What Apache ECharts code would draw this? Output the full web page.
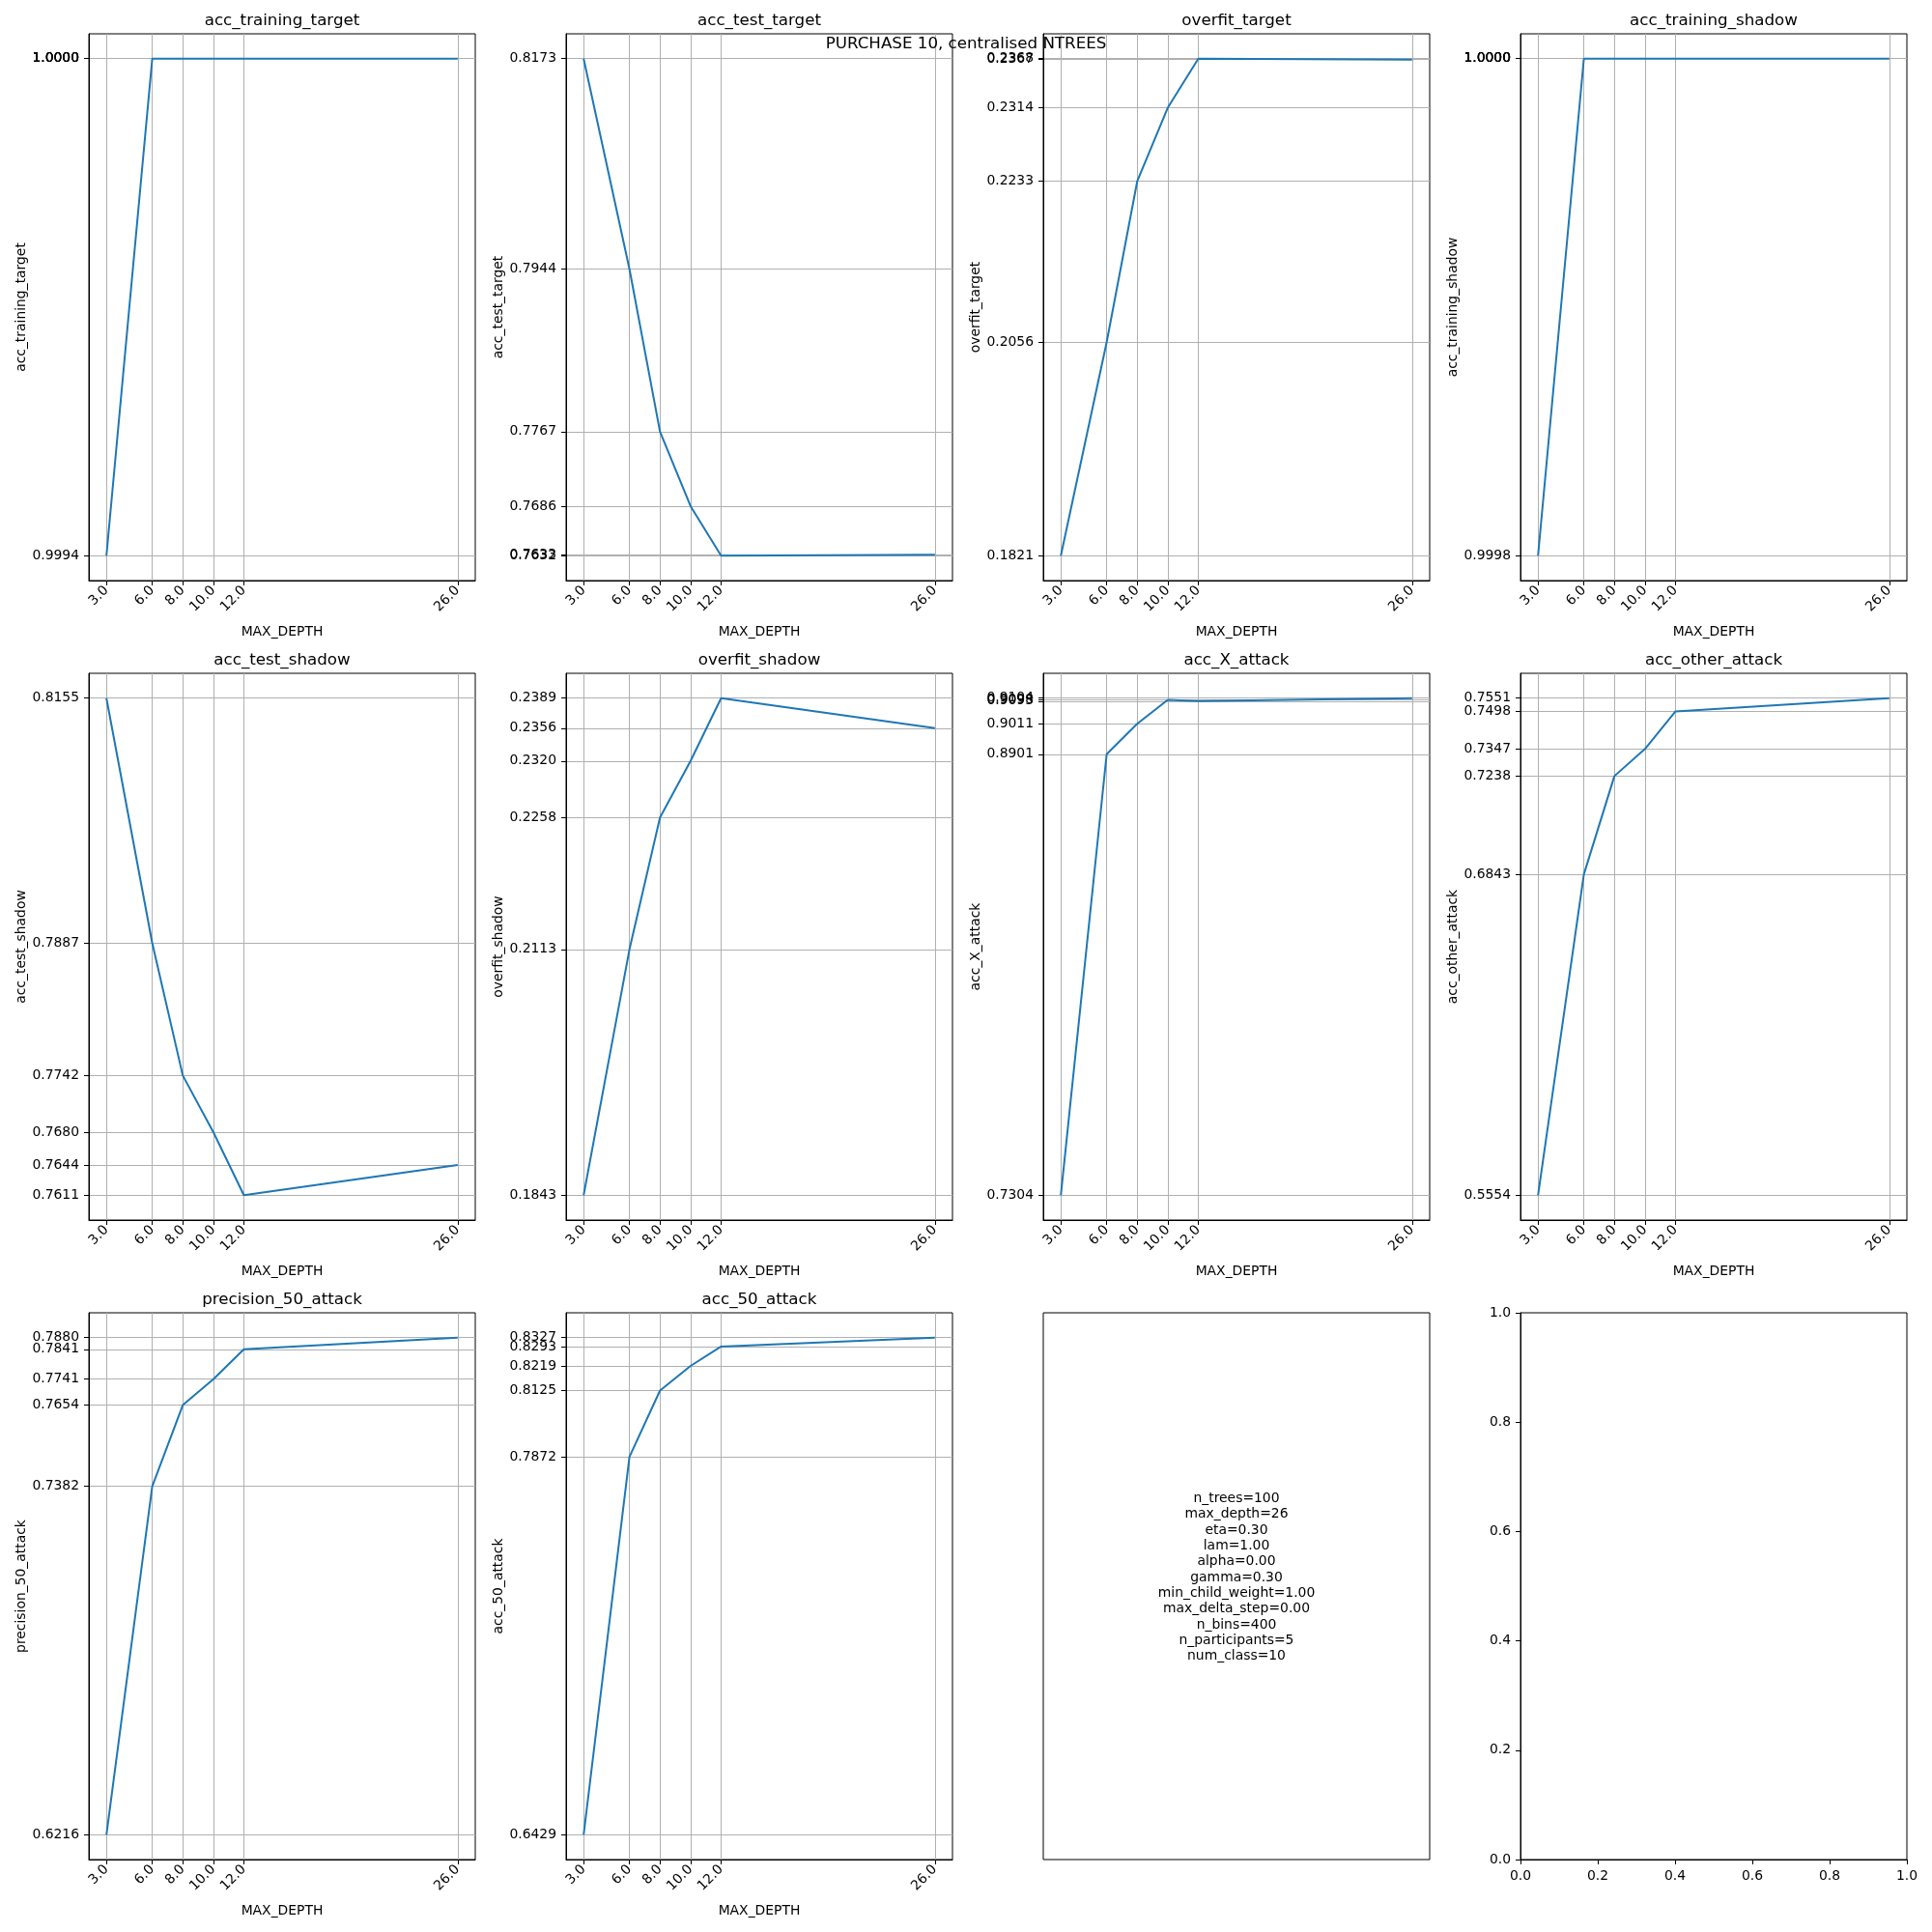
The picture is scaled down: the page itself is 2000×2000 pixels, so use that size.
<!DOCTYPE html>
<html>
<head>
<meta charset="utf-8">
<script src="https://cdn.jsdelivr.net/npm/echarts@6/dist/echarts.min.js"></script>
<style>html,body{margin:0;padding:0;background:#fff}#c{width:2000px;height:2000px}</style>
</head>
<body>
<div id="c"></div>
<script>
// ---------------- DATA ----------------
const X_VALUES = [3, 6, 8, 10, 12, 26];
const X_LABEL = 'MAX_DEPTH';
const SUPTITLE = 'PURCHASE 10, centralised NTREES';

const accTrainingTarget = [0.9994, 1.0000, 1.0000, 1.0000, 1.0000, 1.0000];
const accTestTarget     = [0.8173, 0.7944, 0.7767, 0.7686, 0.7632, 0.7633];
const overfitTarget     = [0.1821, 0.2056, 0.2233, 0.2314, 0.2368, 0.2367];
const accTrainingShadow = [0.9998, 1.0000, 1.0000, 1.0000, 1.0000, 1.0000];
const accTestShadow     = [0.8155, 0.7887, 0.7742, 0.7680, 0.7611, 0.7644];
const overfitShadow     = [0.1843, 0.2113, 0.2258, 0.2320, 0.2389, 0.2356];
const accXAttack        = [0.7304, 0.8901, 0.9011, 0.9098, 0.9093, 0.9104];
const accOtherAttack    = [0.5554, 0.6843, 0.7238, 0.7347, 0.7498, 0.7551];
const precision50Attack = [0.6216, 0.7382, 0.7654, 0.7741, 0.7841, 0.7880];
const acc50Attack       = [0.6429, 0.7872, 0.8125, 0.8219, 0.8293, 0.8327];

const PANEL_NAMES = ['acc_training_target','acc_test_target','overfit_target','acc_training_shadow',
  'acc_test_shadow','overfit_shadow','acc_X_attack','acc_other_attack',
  'precision_50_attack','acc_50_attack'];
const PANEL_VALUES = [accTrainingTarget, accTestTarget, overfitTarget, accTrainingShadow,
  accTestShadow, overfitShadow, accXAttack, accOtherAttack, precision50Attack, acc50Attack];

const PARAM_LINES = ['n_trees=100','max_depth=26','eta=0.30','lam=1.00','alpha=0.00','gamma=0.30',
  'min_child_weight=1.00','max_delta_step=0.00','n_bins=400','n_participants=5','num_class=10'];
const EMPTY_TICKS = [0.0, 0.2, 0.4, 0.6, 0.8, 1.0];

// ---------------- LAYOUT ----------------
const COL_LEFT = [92, 586, 1080, 1574];
const ROW_TOP = [35, 697, 1359];
const W = 400, H = 566;
const FONT = 'DejaVu Sans';
const FS = 13.9, TFS = 16.7;
const BLUE = '#1f77b4', GRID = '#b0b0b0';

// Order tick values so that ECharts' first/last label overlap check never hides a label
// (first two and last two labels are kept far apart).
function labelOrder(vals) {
  const d = vals.slice().sort((a, b) => b - a);
  const n = d.length;
  if (n < 6) return d;
  return [d[0], d[n - 1], d[1], d[n - 2], ...d.slice(4, n - 2).reverse(), d[2], d[3]];
}

const grids = [], xAxes = [], yAxes = [], series = [], graphics = [];

function baseAxisStyle() {
  return {
    axisLine: {show: true, onZero: false, lineStyle: {color: '#000', width: 1}},
    axisTick: {show: true, length: 5, lineStyle: {color: '#000', width: 1}},
  };
}

for (let i = 0; i < 12; i++) {
  const r = Math.floor(i / 4), c = i % 4;
  const left = COL_LEFT[c], top = ROW_TOP[r];
  grids.push({left: left, top: top, width: W, height: H, show: true,
    borderColor: '#000', borderWidth: 1, backgroundColor: 'transparent', containLabel: false});

  if (i < PANEL_VALUES.length) {
    const vals = PANEL_VALUES[i];
    const ticks = labelOrder(vals);
    const vmin = Math.min(...vals), vmax = Math.max(...vals);
    const pad = (vmax - vmin) * 0.05;
    const xr = X_VALUES[X_VALUES.length - 1] - X_VALUES[0];
    const b = baseAxisStyle();
    xAxes.push({
      gridIndex: i, type: 'value',
      min: X_VALUES[0] - xr * 0.05, max: X_VALUES[X_VALUES.length - 1] + xr * 0.05,
      name: X_LABEL, nameLocation: 'middle', nameGap: 46,
      nameTextStyle: {fontFamily: FONT, fontSize: FS, color: '#000'},
      axisLine: b.axisLine,
      axisTick: Object.assign({customValues: X_VALUES}, b.axisTick),
      axisLabel: {customValues: X_VALUES, formatter: v => v.toFixed(1), rotate: 45,
        showMinLabel: true, showMaxLabel: true, hideOverlap: false,
        fontFamily: FONT, fontSize: FS, color: '#000', margin: 8},
      splitLine: {show: true, lineStyle: {color: GRID, width: 1}}
    });
    yAxes.push({
      gridIndex: i, type: 'value', min: vmin - pad, max: vmax + pad,
      name: PANEL_NAMES[i], nameLocation: 'middle', nameGap: 62,
      nameTextStyle: {fontFamily: FONT, fontSize: FS, color: '#000'},
      axisLine: b.axisLine,
      axisTick: Object.assign({customValues: ticks}, b.axisTick),
      axisLabel: {customValues: ticks, formatter: v => v.toFixed(4),
        showMinLabel: true, showMaxLabel: true, hideOverlap: false,
        fontFamily: FONT, fontSize: FS, color: '#000', margin: 10},
      splitLine: {show: true, lineStyle: {color: GRID, width: 1}}
    });
    series.push({
      type: 'line', xAxisIndex: i, yAxisIndex: i,
      data: X_VALUES.map((x, j) => [x, vals[j]]),
      showSymbol: false, symbol: 'none',
      lineStyle: {color: BLUE, width: 2}, itemStyle: {color: BLUE},
      animation: false, z: 5
    });
    graphics.push({type: 'text', x: left + W / 2, y: top - 13, z: 50,
      style: {text: PANEL_NAMES[i], font: TFS + 'px "' + FONT + '"', fill: '#000',
        textAlign: 'center', textVerticalAlign: 'middle'}});
  } else if (i === 10) {
    xAxes.push({gridIndex: i, type: 'value', min: 0, max: 1, show: false});
    yAxes.push({gridIndex: i, type: 'value', min: 0, max: 1, show: false});
    graphics.push({type: 'text', x: left + W / 2, y: top + H / 2 - 9, z: 50,
      style: {text: PARAM_LINES.join('\n'), font: FS + 'px "' + FONT + '"', fill: '#000',
        textAlign: 'center', textVerticalAlign: 'middle', lineHeight: 16.3}});
  } else {
    const b = baseAxisStyle();
    xAxes.push({gridIndex: i, type: 'value', min: 0, max: 1,
      axisLine: b.axisLine,
      axisTick: Object.assign({customValues: EMPTY_TICKS}, b.axisTick),
      axisLabel: {customValues: EMPTY_TICKS, formatter: v => v.toFixed(1),
        showMinLabel: true, showMaxLabel: true,
        fontFamily: FONT, fontSize: FS, color: '#000', margin: 10},
      splitLine: {show: false}});
    yAxes.push({gridIndex: i, type: 'value', min: 0, max: 1,
      axisLine: b.axisLine,
      axisTick: Object.assign({customValues: EMPTY_TICKS}, b.axisTick),
      axisLabel: {customValues: EMPTY_TICKS, formatter: v => v.toFixed(1),
        showMinLabel: true, showMaxLabel: true,
        fontFamily: FONT, fontSize: FS, color: '#000', margin: 10},
      splitLine: {show: false}});
  }
}

graphics.push({type: 'text', x: 1000, y: 46, z: 100,
  style: {text: SUPTITLE, font: TFS + 'px "' + FONT + '"', fill: '#000',
    textAlign: 'center', textVerticalAlign: 'middle'}});

const chart = echarts.init(document.getElementById('c'), null, {renderer: 'canvas', width: 2000, height: 2000});
chart.setOption({
  animation: false,
  backgroundColor: '#fff',
  textStyle: {fontFamily: FONT},
  grid: grids, xAxis: xAxes, yAxis: yAxes, series: series,
  graphic: {elements: graphics}
});
</script>
</body>
</html>
